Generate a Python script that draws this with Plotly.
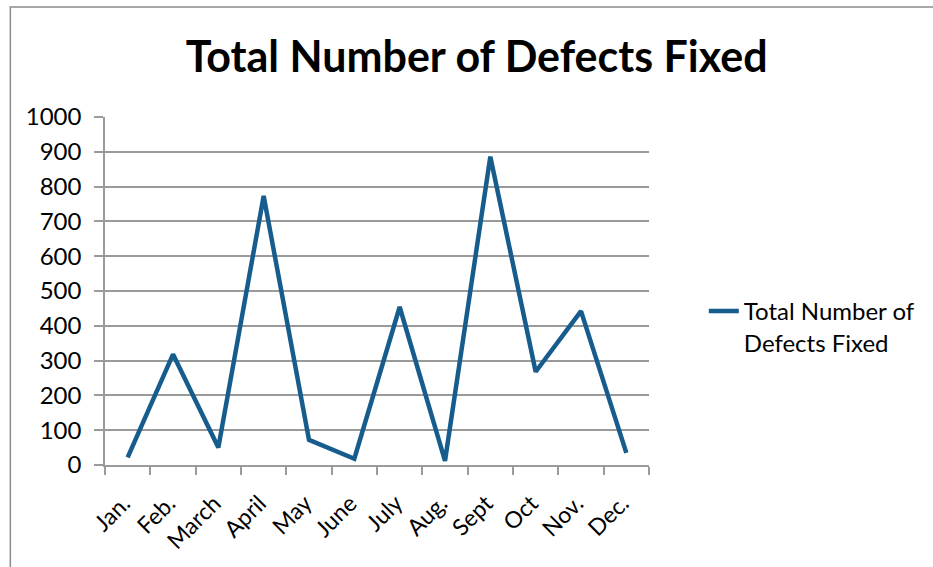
import plotly.graph_objects as go

months = ["Jan.", "Feb.", "March", "April", "May", "June", "July", "Aug.", "Sept", "Oct", "Nov.", "Dec."]
defects_fixed = [22, 318, 50, 773, 72, 18, 454, 12, 886, 268, 442, 35]
series_name = "Total Number of<br>Defects Fixed"
title_text = "Total Number of Defects Fixed"

W, H = 933, 567
L, R, T, B = 105, 282, 117, 102
pw = W - L - R
ph = H - T - B

FONT = "Lato"
GRID = "#9a9a9a"

fig = go.Figure()
fig.add_trace(go.Scatter(
    x=months, y=defects_fixed, mode="lines", name=series_name,
    line=dict(color="#165d8d", width=4.5), showlegend=True,
))

fig.update_layout(
    width=W, height=H,
    margin=dict(l=L, r=R, t=T, b=B),
    paper_bgcolor="white", plot_bgcolor="white",
    font=dict(family=FONT, color="black", size=23),
    title=dict(text="<b>" + title_text + "</b>", x=(478 - L) / pw, xref="paper", xanchor="center",
               y=1 - 57 / H, yref="container", yanchor="middle",
               font=dict(family=FONT, size=43, color="black")),
    showlegend=True,
    legend=dict(x=(706 - L) / pw, xanchor="left", y=(465 - 327) / ph, yanchor="middle",
                valign="top",
                font=dict(family=FONT, size=24, color="black"),
                bgcolor="rgba(0,0,0,0)", itemwidth=30),
    xaxis=dict(type="category", range=[-0.5, 11.5], tickson="boundaries",
               ticks="outside", ticklen=8, tickcolor=GRID, tickwidth=1.5,
               showline=True, linecolor=GRID, linewidth=1.5, showgrid=False,
               tickangle=-45, ticklabelstandoff=10,
               tickvals=months, ticktext=[m + "\u00a0" for m in months],
               tickfont=dict(family=FONT, size=23), fixedrange=True),
    yaxis=dict(range=[0, 1000], dtick=100, tick0=0, ticks="outside", ticklen=9,
               tickcolor=GRID, tickwidth=1.5, showline=True, linecolor=GRID, linewidth=1.5,
               showgrid=True, gridcolor=GRID, gridwidth=1.5, zeroline=False,
               ticklabelstandoff=8,
               tickfont=dict(family=FONT, size=24), fixedrange=True),
    shapes=[dict(type="rect", xref="paper", yref="paper",
                 x0=(10 - L) / pw, x1=(W + 20 - L) / pw,
                 y0=-(H + 20 - (H - B)) / ph, y1=(H - B - 7) / ph,
                 line=dict(color="#8c8c8c", width=1.5), fillcolor="rgba(0,0,0,0)", layer="below")],
)

fig.write_html("out.html")
